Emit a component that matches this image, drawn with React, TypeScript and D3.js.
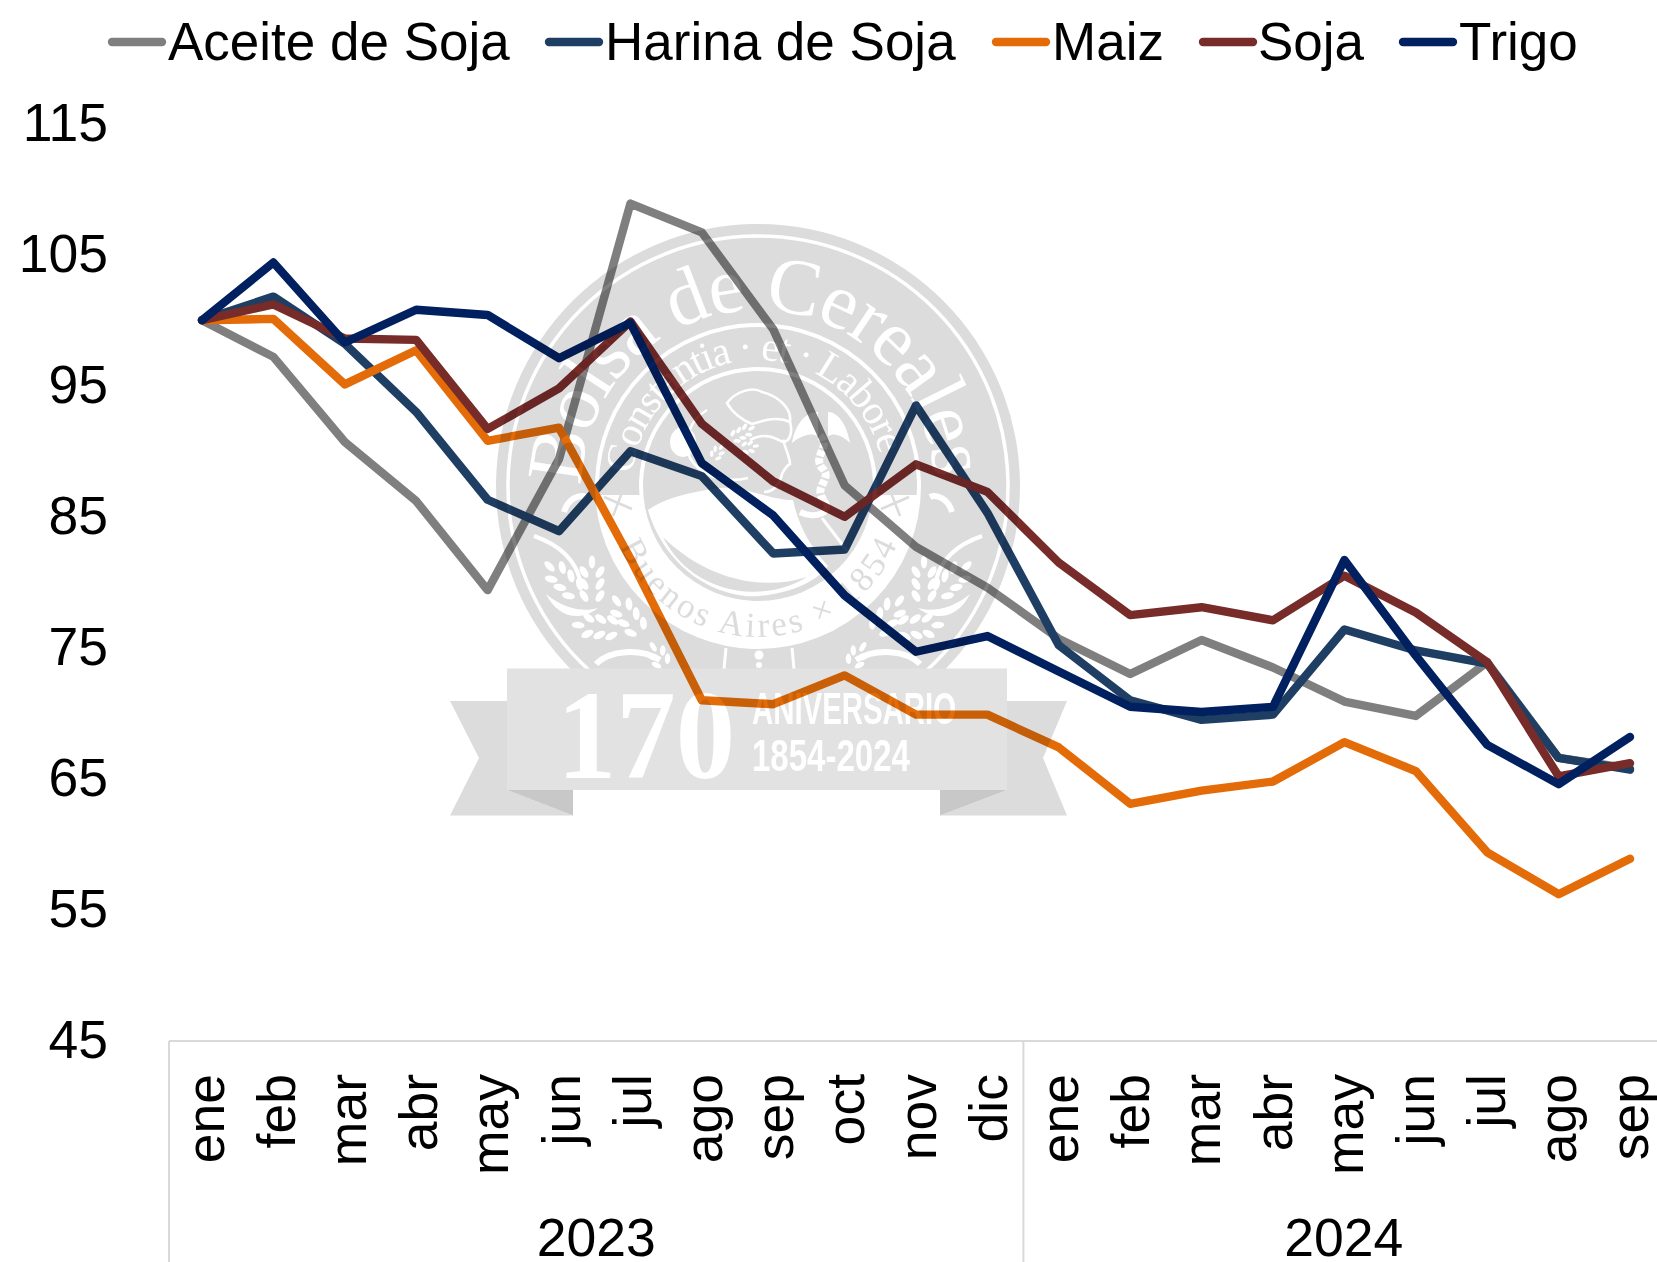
import React from "react";
import * as d3 from "d3";

const months = ["ene","feb","mar","abr","may","jun","jul","ago","sep","oct","nov","dic","ene","feb","mar","abr","may","jun","jul","ago","sep"];
const years = [{ label: "2023", n: 12 }, { label: "2024", n: 9 }];
const yTicks = [45, 55, 65, 75, 85, 95, 105, 115];

const aceite = [100,97.2,90.7,86.2,79.4,89.4,108.9,106.7,99.3,87.4,82.7,79.6,75.7,73,75.6,73.5,70.9,69.8,73.9,66.6,65.8];
const harina = [100,101.8,98.2,93,86.3,83.9,90,88.1,82.2,82.5,93.5,85.3,75.2,71,69.5,69.9,76.4,74.8,73.8,66.6,65.7];
const maiz = [100,100.1,95.1,97.7,90.8,91.8,81.8,71,70.7,72.9,69.9,69.9,67.4,63.1,64.1,64.8,67.8,65.6,59.4,56.2,58.9];
const soja = [100,101.2,98.6,98.5,91.7,94.8,99.9,92.1,87.7,85,89,86.9,81.5,77.5,78.1,77.1,80.5,77.7,73.9,65.2,66.2];
const trigo = [100,104.4,98.3,100.8,100.4,97.1,99.8,89.1,85.1,79,74.7,75.9,73.2,70.5,70.1,70.5,81.7,74.4,67.6,64.6,68.2];

const series = [
  { name: "Aceite de Soja", values: aceite, color: "#7f7f7f", sx: 109, tx: 168 },
  { name: "Harina de Soja", values: harina, color: "#1f3e63", sx: 546, tx: 605 },
  { name: "Maiz", values: maiz, color: "#e36c09", sx: 993, tx: 1052 },
  { name: "Soja", values: soja, color: "#772c2a", sx: 1200, tx: 1258 },
  { name: "Trigo", values: trigo, color: "#002060", sx: 1400, tx: 1459 },
];

const W = 1657, H = 1262;
const FONT = "'Liberation Sans', Arial, sans-serif";
const SERIF = "'Liberation Serif', serif";
const FS = 53.5;
const LEGEND_FS = 53;
const AXIS = "#d9d9d9";
const LW = 8.4;

const idx = months.map((_, i) => i);
const x = d3.scalePoint<number>().domain(idx).range([202, 1630]);
const band = d3.scaleBand<number>().domain(idx).range([169, 169 + 71.2 * 21]);
const y = d3.scaleLinear().domain([45, 115]).range([1041, 123.6]);
const line = d3.line<number>().x((_, i) => x(i) as number).y((d) => y(d));

const cx = 758, cy = 486;

function Ear({ tx, ty, rot, n = 4, s = 1 }: { tx: number; ty: number; rot: number; n?: number; s?: number }) {
  return (
    <g transform={`translate(${tx},${ty}) rotate(${rot}) scale(${s})`} fill="#fff">
      {d3.range(n).map((g) => (
        <g key={g}>
          <ellipse cx={-8} cy={-g * 12} rx={3.4} ry={6.5} transform={`rotate(-32 -8 ${-g * 12})`} />
          <ellipse cx={8} cy={-g * 12} rx={3.4} ry={6.5} transform={`rotate(32 8 ${-g * 12})`} />
        </g>
      ))}
      <ellipse cx={0} cy={-n * 12 + 2} rx={3.2} ry={6.5} />
    </g>
  );
}

function Side() {
  return (
    <g>
      <Ear tx={592} ty={596} rot={0} n={3} />
      <Ear tx={574} ty={590} rot={-46} n={3} />
      <Ear tx={637} ty={628} rot={-37} n={3} />
      <Ear tx={612} ty={628} rot={-85} n={3} />
      <path fill="#fff" d="M546,594 C565,610 585,612 598,608 C580,622 558,618 546,594 Z" />
      <path fill="none" stroke="#fff" strokeWidth={4} d="M534,536 C560,545 575,560 580,580" />
      <path fill="none" stroke="#fff" strokeWidth={6} d="M564,512 C568,498 580,494 586,497" />
      <path fill="none" stroke="#fff" strokeWidth={6} d="M596,664 C610,650 640,648 660,660" />
      <Ear tx={662} ty={662} rot={-30} n={2} s={0.8} />
    </g>
  );
}

function Watermark() {
  const D = "#dcdcdc";
  const arc = (r: number, sweep: 0 | 1) => `M${cx - r},${cy} A${r},${r} 0 0 ${sweep} ${cx + r},${cy}`;
  return (
    <g style={{ mixBlendMode: "multiply" }}>
      <defs>
        <path id="arcOuter" d={arc(176, 1)} />
        <path id="arcInner" d={arc(126, 1)} />
        <path id="arcLow" d={arc(151, 0)} />
        <clipPath id="sealClip"><rect x={0} y={0} width={W} height={669} /></clipPath>
        <clipPath id="lowClip"><rect x={0} y={495} width={W} height={300} /></clipPath>
      </defs>
      <g clipPath="url(#sealClip)">
        <circle cx={cx} cy={cy} r={262} fill={D} />
        <circle cx={cx} cy={cy} r={250} fill="none" stroke="#fff" strokeWidth={3.5} />
        <circle cx={cx} cy={cy} r={161} fill={D} stroke="#fff" strokeWidth={4} />
        <circle cx={cx} cy={cy} r={161} fill="#fff" clipPath="url(#lowClip)" />
        <circle cx={cx} cy={cy} r={119} fill="#fff" />
        <circle cx={cx} cy={cy} r={115} fill={D} />

        <path fill="#fff" d="M648,510 C665,498 690,492 720,488 C745,486 770,500 793,500 C797,520 808,545 828,566 C812,588 770,598 745,596 C695,590 660,552 648,510 Z" />
        <path fill={D} d="M663,537 C690,592 760,606 807,577 C760,592 705,578 663,537 Z" />

        <g fill="none" stroke="#fff" strokeWidth={2.6}>
          <path d="M727,403 C735,392 752,386 762,392 C778,396 792,408 790,422 C778,416 765,420 752,424 C742,420 732,412 727,403 Z" />
          <path d="M707,410 C690,420 682,440 690,458 C700,475 722,484 748,478" />
          <path d="M790,422 C794,436 786,445 783,440 C786,450 790,458 790,464 C786,466 784,470 782,474 C780,484 774,492 764,492" />
          <path d="M750,440 C765,432 775,438 783,442" />
        </g>
        <ellipse cx={683} cy={442} rx={13} ry={15} fill="#fff" />
        <Ear tx={735} ty={437} rot={62} n={3} s={0.55} />
        <Ear tx={745} ty={448} rot={80} n={2} s={0.5} />
        <Ear tx={715} ty={456} rot={35} n={2} s={0.5} />

        <path fill="#fff" d="M792,443 C795,425 805,412 818,412 L818,436 C810,432 800,436 792,443 Z" />
        <path fill="#fff" d="M850,443 C847,425 838,412 828,412 L828,436 C835,432 843,436 850,443 Z" />
        <path fill="none" stroke="#fff" strokeWidth={8} strokeDasharray="6 2" d="M820,436 C832,446 812,456 822,468 C834,478 812,488 824,500" />
        <path fill="none" stroke="#fff" strokeWidth={6} d="M824,500 C835,512 815,520 800,512" />
        <path fill="none" stroke="#fff" strokeWidth={3} d="M822,518 L848,552" />

        <Side />
        <g transform={`translate(${cx * 2},0) scale(-1,1)`}><Side /></g>

        <circle cx={759} cy={655} r={4.5} fill="#fff" />
        <circle cx={759} cy={665} r={3} fill="#fff" />
        <path fill="none" stroke="#fff" strokeWidth={3} d="M726,648 L724,669 M792,648 L794,669" />

        <text fontFamily={SERIF} fontSize={80} fill="#fff">
          <textPath href="#arcOuter" startOffset="0" textLength={545} lengthAdjust="spacing">Bolsa de Cereales</textPath>
        </text>
        <text fontFamily={SERIF} fontSize={41} fill="#fff">
          <textPath href="#arcInner" startOffset="3%" textLength={352} lengthAdjust="spacing">Constantia · et · Labore</textPath>
        </text>
        <text fontFamily={SERIF} fontSize={35} fill={D}>
          <textPath href="#arcLow" startOffset="13%" textLength={352} lengthAdjust="spacing">Buenos Aires × 1854</textPath>
        </text>
        <path fill="none" stroke={D} strokeWidth={2.5} d="M604,497 L632,509 M623,490 L613,516 M909,497 L881,509 M890,490 L900,516" />
      </g>
      <polygon points="450,701 507,701 507,790 573,815.5 450,815.5 479,758" fill={D} />
      <polygon points="1067,701 1007,701 1007,790 940,815.5 1067,815.5 1043,758" fill={D} />
      <polygon points="507,790 573,790 573,815.5" fill="#c8c8c8" />
      <polygon points="1007,790 940,790 940,815.5" fill="#c8c8c8" />
      <rect x={507} y={668.5} width={500} height={121.5} fill="#e2e2e2" />
      <g fill="#fff">
        <text x={557} y={778} fontFamily={SERIF} fontWeight={700} fontSize={128} textLength={178} lengthAdjust="spacingAndGlyphs">170</text>
        <text x={752} y={724} fontFamily={FONT} fontWeight={700} fontSize={44} textLength={204} lengthAdjust="spacingAndGlyphs">ANIVERSARIO</text>
        <text x={752} y={771} fontFamily={FONT} fontWeight={700} fontSize={44} textLength={158} lengthAdjust="spacingAndGlyphs">1854-2024</text>
      </g>
    </g>
  );
}

export default function App() {
  let acc = 0;
  const yearBands = years.map((yr) => {
    const start = band(acc) as number;
    acc += yr.n;
    return { ...yr, start, center: start + (yr.n * band.bandwidth()) / 2 };
  });
  return (
    <svg width={W} height={H} viewBox={`0 0 ${W} ${H}`} style={{ position: "absolute", left: 0, top: 0, background: "#fff" }}>
      {yTicks.map((t) => (
        <text key={t} x={108} y={y(t) + 17} textAnchor="end" fontFamily={FONT} fontSize={FS} fill="#000">{t}</text>
      ))}
      <line x1={169} x2={W} y1={1041} y2={1041} stroke={AXIS} strokeWidth={2} />
      <line x1={169} x2={169} y1={1041} y2={H} stroke={AXIS} strokeWidth={2} />
      {yearBands.slice(1).map((b) => (
        <line key={b.label} x1={b.start} x2={b.start} y1={1041} y2={H} stroke={AXIS} strokeWidth={2} />
      ))}
      {months.map((m, i) => {
        const tx = (band(i) as number) + band.bandwidth() / 2 + 19;
        return (
          <text key={i} transform={`translate(${tx},1074) rotate(-90)`} textAnchor="end" fontFamily={FONT} fontSize={FS} fill="#000">{m}</text>
        );
      })}
      {yearBands.map((b) => (
        <text key={b.label} x={b.center} y={1256} textAnchor="middle" fontFamily={FONT} fontSize={FS} fill="#000">{b.label}</text>
      ))}
      {series.map((s) => (
        <path key={s.name} d={line(s.values) as string} fill="none" stroke={s.color} strokeWidth={LW} strokeLinecap="round" strokeLinejoin="round" />
      ))}
      <Watermark />
      {series.map((s) => (
        <g key={s.name}>
          <line x1={s.sx + 3} x2={s.sx + 53} y1={42} y2={42} stroke={s.color} strokeWidth={LW} strokeLinecap="round" />
          <text x={s.tx} y={60} fontFamily={FONT} fontSize={LEGEND_FS} fill="#000">{s.name}</text>
        </g>
      ))}
    </svg>
  );
}
